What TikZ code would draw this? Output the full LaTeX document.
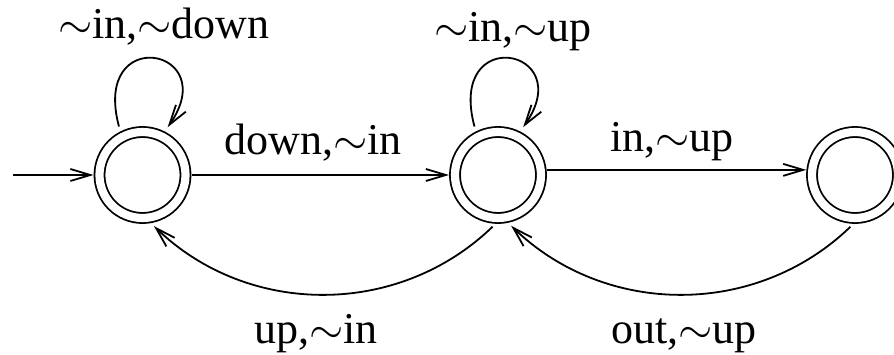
\RequirePackage{fix-cm}
\documentclass[tikz,border=0pt]{standalone}
\usepackage{fontspec}
\setmainfont{Liberation Serif}
\usetikzlibrary{arrows.meta}
\begin{document}
\begin{tikzpicture}[x=1pt,y=-1pt,
  accst/.style={circle,draw,line width=1.8pt,double,double distance=8.2pt,minimum size=86pt,inner sep=0pt,outer sep=6pt},
  trans/.style={line width=1.8pt,-{Straight Barb[length=20pt,width=12pt,line width=1.8pt]}},
  lbl/.style={font=\fontsize{44}{44}\selectfont,inner sep=0pt,anchor=base}]
\useasboundingbox (0,0) rectangle (894,355);
\node[accst] (n1) at (142.5,175) {};
\node[accst] (n2) at (498,175) {};
\node[accst] (n3) at (855,175) {};
\coordinate (s) at (13,175);
\draw[trans] (s) -- (n1.west);
\draw[trans] (n1.east) -- (n2.west);
\draw[trans] (n2.6) -- (n3.174);
\draw[trans,shorten <=5pt,shorten >=5pt] (n1.117) .. controls +(-105:112) and +(-55:102) .. (n1.63);
\draw[trans,shorten <=5pt,shorten >=5pt] (n2.117) .. controls +(-105:112) and +(-55:102) .. (n2.63);
\draw[trans,shorten <=4pt,shorten >=4pt] (n2.-93) to[out=-136,in=-44] (n1.-80);
\draw[trans,shorten <=4pt,shorten >=4pt] (n3.-92) to[out=-136,in=-44] (n2.-78);
\node[lbl] (l1) at (164,39) {$\sim$in,$\sim$down};
\node[lbl] (l2) at (513,42) {$\sim$in,$\sim$up};
\node[lbl] (l3) at (313,155) {down,$\sim$in};
\node[lbl] (l4) at (672,152) {in,$\sim$up};
\node[lbl] (l5) at (316,343) {up,$\sim$in};
\node[lbl] (l6) at (684,343) {out,$\sim$up};
\end{tikzpicture}
\end{document}
